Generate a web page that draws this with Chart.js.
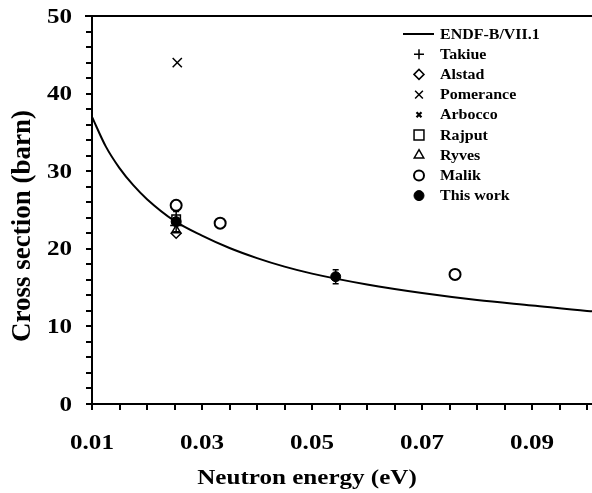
<!DOCTYPE html>
<html>
<head>
<meta charset="utf-8">
<script src="https://cdn.jsdelivr.net/npm/chart.js@4.4.0/dist/chart.umd.min.js"></script>
<style>
  html, body { margin: 0; padding: 0; background: #fff; }
  #wrap { width: 592px; height: 493px; }
</style>
</head>
<body>
<div id="wrap"><canvas id="xsChart"></canvas></div>
<script>
// ENDF-B/VII.1 evaluation
const endfE  = [0.01, 0.0125, 0.015, 0.0175, 0.02, 0.025, 0.03, 0.035, 0.04, 0.045, 0.05, 0.06, 0.07, 0.08, 0.09, 0.1, 0.1009];
const endfXS = [37.0, 33.2, 30.4, 28.2, 26.4, 23.6, 21.7, 20.1, 18.8, 17.7, 16.8, 15.4, 14.3, 13.4, 12.7, 12.0, 11.95];

// measurements
const takiueE = [0.0253],  takiueXS = [23.0];
const alstadE = [0.0253],  alstadXS = [22.0];
const pomeranceE = [0.0255], pomeranceXS = [44.0];
const arboccoE = [0.0253], arboccoXS = [23.3];
const rajputE = [0.0253],  rajputXS = [23.8];
const ryvesE = [0.0253],   ryvesXS = [22.4];
const malikE = [0.0253, 0.0333, 0.076], malikXS = [25.6, 23.3, 16.7];
const thisWorkE = [0.0253, 0.0543], thisWorkXS = [23.5, 16.4], thisWorkErr = [1.3, 0.9];

// axis ticks
const xTicks = [0.01, 0.015, 0.02, 0.025, 0.03, 0.035, 0.04, 0.045, 0.05, 0.055, 0.06, 0.065, 0.07, 0.075, 0.08, 0.085, 0.09, 0.095, 0.1];
const xLabels = [0.01, 0.03, 0.05, 0.07, 0.09];
const yLabels = [0, 10, 20, 30, 40, 50];

const FONT = "'Liberation Serif', 'Times New Roman', serif";
const STRETCH = 1.14;  // the printed figure is a bit wider than tall

function pts(xs, ys) {
    return xs.map((x, i) => ({ x: x, y: ys[i] }));
}

function wideText(ctx, text, x, y, size, align) {
    ctx.save();
    ctx.translate(x, y);
    ctx.scale(STRETCH, 1);
    ctx.font = 'bold ' + size + 'px ' + FONT;
    ctx.textAlign = align;
    ctx.textBaseline = 'middle';
    ctx.fillText(text, 0, 0);
    ctx.restore();
}

// legend entries (drawn inside the plot)
const legendItems = [
    { label: 'ENDF-B/VII.1', line: true },
    { label: 'Takiue', style: 'cross', r: 5, bw: 1.5, fill: '#fff' },
    { label: 'Alstad', style: 'rectRot', r: 5, bw: 1.5, fill: '#fff' },
    { label: 'Pomerance', style: 'crossRot', r: 5.5, bw: 1.5, fill: '#fff' },
    { label: 'Arbocco', style: 'crossRot', r: 3.5, bw: 2.2, fill: '#fff' },
    { label: 'Rajput', style: 'rect', r: 7, bw: 1.5, fill: '#fff' },
    { label: 'Ryves', style: 'triangle', r: 5.5, bw: 1.5, fill: '#fff' },
    { label: 'Malik', style: 'circle', r: 5, bw: 2, fill: '#fff' },
    { label: 'This work', style: 'circle', r: 5, bw: 1, fill: '#000' }
];

const extras = {
    id: 'extras',
    afterDatasetsDraw(chart) {
        const ctx = chart.ctx;
        const xs = chart.scales.x, ys = chart.scales.y;
        // error bars for this work
        ctx.save();
        ctx.strokeStyle = '#000';
        ctx.lineWidth = 1.5;
        thisWorkE.forEach((e, i) => {
            const px = xs.getPixelForValue(e);
            const top = ys.getPixelForValue(thisWorkXS[i] + thisWorkErr[i]);
            const bot = ys.getPixelForValue(thisWorkXS[i] - thisWorkErr[i]);
            ctx.beginPath();
            ctx.moveTo(px, top); ctx.lineTo(px, bot);
            ctx.moveTo(px - 3, top); ctx.lineTo(px + 3, top);
            ctx.moveTo(px - 3, bot); ctx.lineTo(px + 3, bot);
            ctx.stroke();
        });
        ctx.restore();
    },
    afterDraw(chart) {
        const ctx = chart.ctx;
        const area = chart.chartArea;
        const xs = chart.scales.x, ys = chart.scales.y;
        ctx.save();
        // top frame line
        ctx.strokeStyle = '#000';
        ctx.lineWidth = 2;
        ctx.beginPath();
        ctx.moveTo(area.left - 7, area.top);
        ctx.lineTo(area.right, area.top);
        ctx.stroke();

        // tick labels
        ctx.fillStyle = '#000';
        xLabels.forEach(v => {
            wideText(ctx, v.toFixed(2), xs.getPixelForValue(v), 443, 22, 'center');
        });
        yLabels.forEach(v => {
            wideText(ctx, String(v), 72, ys.getPixelForValue(v) + 1, 22, 'right');
        });

        // axis titles
        wideText(ctx, 'Neutron energy (eV)', 307, 478, 22, 'center');
        ctx.save();
        ctx.translate(23, 226);
        ctx.rotate(-Math.PI / 2);
        ctx.font = 'bold 27px ' + FONT;
        ctx.textAlign = 'center';
        ctx.textBaseline = 'middle';
        ctx.fillText('Cross section (barn)', 0, 0);
        ctx.restore();

        // legend
        const mx = 419, tx = 440, y0 = 34, dy = 20.2;
        legendItems.forEach((it, i) => {
            const y = y0 + i * dy;
            if (it.line) {
                ctx.strokeStyle = '#000';
                ctx.lineWidth = 2;
                ctx.beginPath();
                ctx.moveTo(403, y); ctx.lineTo(434, y);
                ctx.stroke();
            } else {
                ctx.fillStyle = it.fill;
                ctx.strokeStyle = '#000';
                ctx.lineWidth = it.bw;
                Chart.helpers.drawPoint(ctx, { pointStyle: it.style, radius: it.r, borderWidth: it.bw, rotation: 0 }, mx, y);
            }
            ctx.fillStyle = '#000';
            wideText(ctx, it.label, tx, y + 1, 14, 'left');
        });
        ctx.restore();
    }
};

function scatter(label, xs, ys, style, r, bw, fill, order) {
    return {
        label: label,
        data: pts(xs, ys),
        showLine: false,
        pointStyle: style,
        pointRadius: r,
        pointBorderWidth: bw,
        pointBorderColor: '#000',
        pointBackgroundColor: fill,
        borderColor: '#000',
        order: order
    };
}

new Chart(document.getElementById('xsChart'), {
    type: 'line',
    data: {
        datasets: [
            {
                label: 'ENDF-B/VII.1',
                data: pts(endfE, endfXS),
                borderColor: '#000',
                borderWidth: 2,
                pointRadius: 0,
                fill: false,
                cubicInterpolationMode: 'monotone',
                order: 10
            },
            scatter('Takiue', takiueE, takiueXS, 'cross', 6, 1.5, '#fff', 8),
            scatter('Alstad', alstadE, alstadXS, 'rectRot', 5, 1.5, '#fff', 7),
            scatter('Pomerance', pomeranceE, pomeranceXS, 'crossRot', 6.5, 1.5, '#fff', 6),
            scatter('Arbocco', arboccoE, arboccoXS, 'crossRot', 3.5, 2.2, '#fff', 5),
            scatter('Rajput', rajputE, rajputXS, 'rect', 6, 1.5, '#fff', 4),
            scatter('Ryves', ryvesE, ryvesXS, 'triangle', 5, 1.5, '#fff', 3),
            scatter('Malik', malikE, malikXS, 'circle', 5.5, 2, '#fff', 2),
            scatter('This work', thisWorkE, thisWorkXS, 'circle', 5, 1, '#000', 1)
        ]
    },
    options: {
        responsive: true,
        maintainAspectRatio: false,
        devicePixelRatio: 1,
        animation: false,
        layout: { autoPadding: false, padding: { top: 16, right: 0, left: 0, bottom: 0 } },
        plugins: { legend: { display: false }, tooltip: { enabled: false } },
        scales: {
            x: {
                type: 'linear',
                min: 0.01,
                max: 0.1009,
                afterBuildTicks: (scale) => { scale.ticks = xTicks.map(v => ({ value: v })); },
                afterFit: (scale) => {
                    scale.height = 89;
                    scale.paddingLeft = 0;
                    scale.paddingRight = 0;
                },
                grid: { drawOnChartArea: false, drawTicks: true, tickLength: 6, color: '#000', lineWidth: 2 },
                border: { display: true, color: '#000', width: 2 },
                ticks: { display: false, autoSkip: false }
            },
            y: {
                min: 0,
                max: 50,
                afterFit: (scale) => {
                    scale.width = 92;
                    scale.paddingTop = 0;
                    scale.paddingBottom = 0;
                },
                grid: { drawOnChartArea: false, drawTicks: true, tickLength: 6, color: '#000', lineWidth: 2 },
                border: { display: true, color: '#000', width: 2 },
                ticks: { display: false, stepSize: 2, autoSkip: false }
            }
        }
    },
    plugins: [extras]
});
</script>
</body>
</html>
